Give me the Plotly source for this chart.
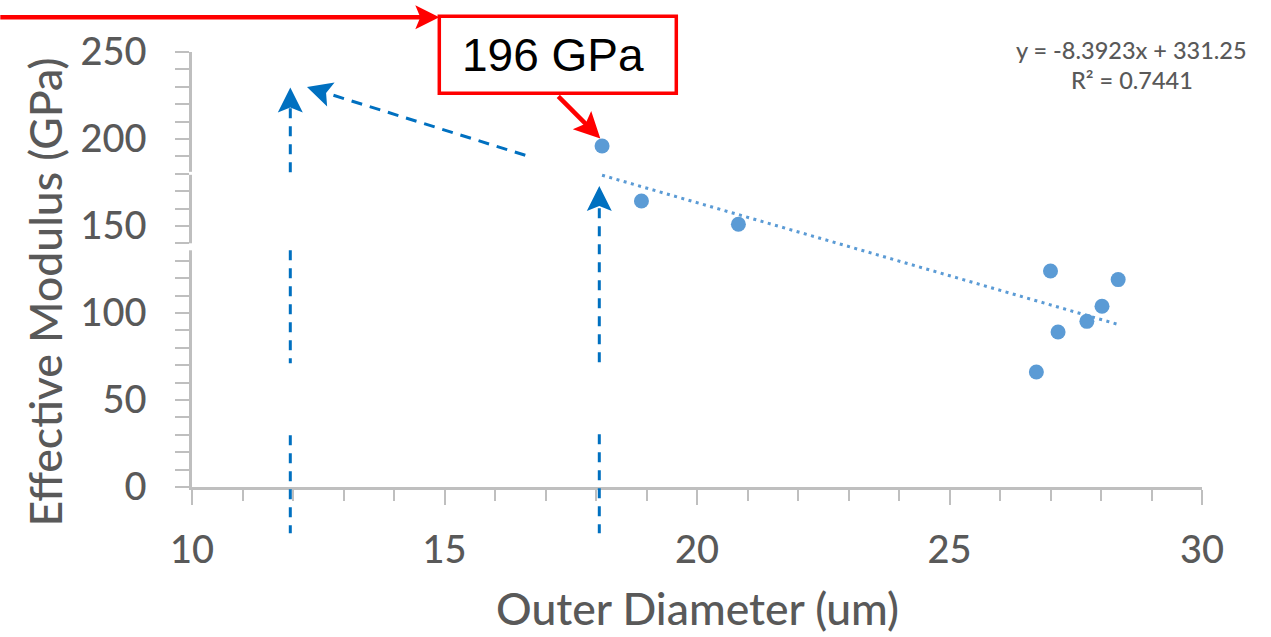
import plotly.graph_objects as go

# ---------------- data ----------------
outer_diameter_um = [18.12, 18.90, 20.82, 27.00, 28.34, 28.02, 27.72, 27.15, 26.72]
effective_modulus_gpa = [196.0, 164.4, 151.0, 124.1, 119.2, 103.9, 95.2, 89.1, 66.1]
trend_slope = -8.3923
trend_intercept = 331.25
trend_r2 = 0.7441
x_tick_values = [10, 15, 20, 25, 30]
y_tick_values = [0, 50, 100, 150, 200, 250]
callout_text = "196 GPa"

# ---------------- layout geometry (pixels) ----------------
FIG_W, FIG_H = 1271, 637
L, R, T, B = 191.7, 1201.7, 51.7, 486.7
W, H = R - L, B - T


def px(x, y):
    """pixel -> paper coordinates"""
    return (x - L) / W, (B - y) / H


TXT = "#595959"
AX = "#BFBFBF"
PT = "#5B9BD5"
BLUE = "#0070C0"
RED = "#FF0000"
FONT = "Lato"
WT = 500

shapes = []
annotations = []


def seg(p0, p1, color, width, dash=None):
    x0, y0 = px(*p0)
    x1, y1 = px(*p1)
    line = dict(color=color, width=width)
    if dash:
        line["dash"] = dash
    shapes.append(dict(type="line", xref="paper", yref="paper",
                       x0=x0, y0=y0, x1=x1, y1=y1, line=line, layer="above"))


def arrowhead(tail, tip, color, length=25, half=12.5, notch=5):
    dx, dy = tip[0] - tail[0], tip[1] - tail[1]
    n = (dx * dx + dy * dy) ** 0.5
    ux, uy = dx / n, dy / n
    nx, ny = -uy, ux
    bx, by = tip[0] - ux * length, tip[1] - uy * length
    pts = [tip,
           (bx + nx * half, by + ny * half),
           (tip[0] - ux * (length - notch), tip[1] - uy * (length - notch)),
           (bx - nx * half, by - ny * half)]
    p = [px(*q) for q in pts]
    path = "M " + " L ".join(f"{a:.5f},{b:.5f}" for a, b in p) + " Z"
    shapes.append(dict(type="path", xref="paper", yref="paper", path=path,
                       fillcolor=color, line=dict(width=0), layer="above"))
    return (tip[0] - ux * (length - notch - 1), tip[1] - uy * (length - notch - 1))


def arrow(tail, tip, color, width, dash=None, **kw):
    end = arrowhead(tail, tip, color, **kw)
    seg(tail, end, color, width, dash)


# y-axis line small gaps (artifacts in original)
for y0, y1 in [(171.5, 174.5), (243.0, 250.0)]:
    a0, b0 = px(L - 3, y0)
    a1, b1 = px(L + 3, y1)
    shapes.append(dict(type="rect", xref="paper", yref="paper", x0=a0, x1=a1,
                       y0=b0, y1=b1, fillcolor="white", line=dict(width=0), layer="above"))

# blue dashed construction lines
DASH = "10px,8px"
seg((290, 435), (290, 533), BLUE, 3, DASH)
seg((290, 250), (290, 363), BLUE, 3, DASH)
arrow((290, 172), (290, 87.3), BLUE, 3, DASH)
seg((599, 434), (599, 533), BLUE, 3, DASH)
arrow((599, 362), (599, 185.7), BLUE, 3, DASH)
arrow((525, 155), (306.7, 86.7), BLUE, 3, "11px,8px")

# red callout
arrow((0, 17), (439, 17), RED, 4.5, length=24, half=12)
arrow((558, 96), (600, 138.3), RED, 4.5, length=26, half=13)
bx0, by0 = px(439, 16)
bx1, by1 = px(676, 93)
shapes.append(dict(type="rect", xref="paper", yref="paper", x0=bx0, x1=bx1, y0=by0, y1=by1,
                   line=dict(color=RED, width=3.5), fillcolor="white", layer="above"))
cx, cy = px(553, 55)
annotations.append(dict(xref="paper", yref="paper", x=cx, y=cy, text=callout_text,
                        showarrow=False, xanchor="center", yanchor="middle",
                        font=dict(family="Liberation Sans, Arial", size=46, color="black")))

# equation text
ex, ey1 = px(1131.5, 50)
_, ey2 = px(1131.5, 80)
eq1 = f"y = {trend_slope}x + {trend_intercept}"
eq2 = f"R² = {trend_r2}"
for yy, t in [(ey1, eq1), (ey2, eq2)]:
    annotations.append(dict(xref="paper", yref="paper", x=ex, y=yy, text=t, showarrow=False,
                            xanchor="center", yanchor="middle",
                            font=dict(family=FONT, size=23.5, color=TXT, weight=WT)))

# axis titles
tx, ty = px(697, 607)
annotations.append(dict(xref="paper", yref="paper", x=tx, y=ty, text="Outer Diameter (um)",
                        showarrow=False, xanchor="center", yanchor="middle",
                        font=dict(family=FONT, size=44.5, color=TXT, weight=WT)))
tx, ty = px(44, 292)
annotations.append(dict(xref="paper", yref="paper", x=tx, y=ty, text="Effective Modulus (GPa)",
                        showarrow=False, xanchor="center", yanchor="middle", textangle=-90,
                        font=dict(family=FONT, size=44.5, color=TXT, weight=WT)))

# ---------------- traces ----------------
trend_x = [min(outer_diameter_um), max(outer_diameter_um)]
trend_y = [trend_slope * v + trend_intercept for v in trend_x]

fig = go.Figure()
fig.add_trace(go.Scatter(x=trend_x, y=trend_y, mode="lines",
                         line=dict(color=PT, width=3, dash="3px,4.5px"),
                         hoverinfo="skip", showlegend=False, cliponaxis=False))
fig.add_trace(go.Scatter(x=outer_diameter_um, y=effective_modulus_gpa, mode="markers",
                         marker=dict(color=PT, size=15, line=dict(width=0)),
                         showlegend=False, cliponaxis=False))

fig.update_layout(
    width=FIG_W, height=FIG_H,
    margin=dict(l=L, r=FIG_W - R, t=T, b=FIG_H - B, pad=0),
    paper_bgcolor="white", plot_bgcolor="white",
    shapes=shapes, annotations=annotations,
    font=dict(family=FONT, color=TXT),
)
fig.update_xaxes(range=[10, 30], tickvals=x_tick_values, showgrid=False, zeroline=False,
                 showline=True, linecolor=AX, linewidth=2.5,
                 ticks="outside", ticklen=15, tickwidth=2, tickcolor=AX,
                 tickfont=dict(family=FONT, size=38, color=TXT, weight=WT), ticklabelstandoff=13,
                 minor=dict(dtick=1, ticks="outside", ticklen=11, tickwidth=2, tickcolor=AX,
                            showgrid=False))
fig.update_yaxes(range=[0, 250], tickvals=y_tick_values, showgrid=False, zeroline=False,
                 showline=True, linecolor=AX, linewidth=2.5,
                 ticks="outside", ticklen=14, tickwidth=2, tickcolor=AX,
                 tickfont=dict(family=FONT, size=38, color=TXT, weight=WT), ticklabelstandoff=21,
                 minor=dict(dtick=10, ticks="outside", ticklen=14, tickwidth=2, tickcolor=AX,
                            showgrid=False))

fig.write_html("out.html")
